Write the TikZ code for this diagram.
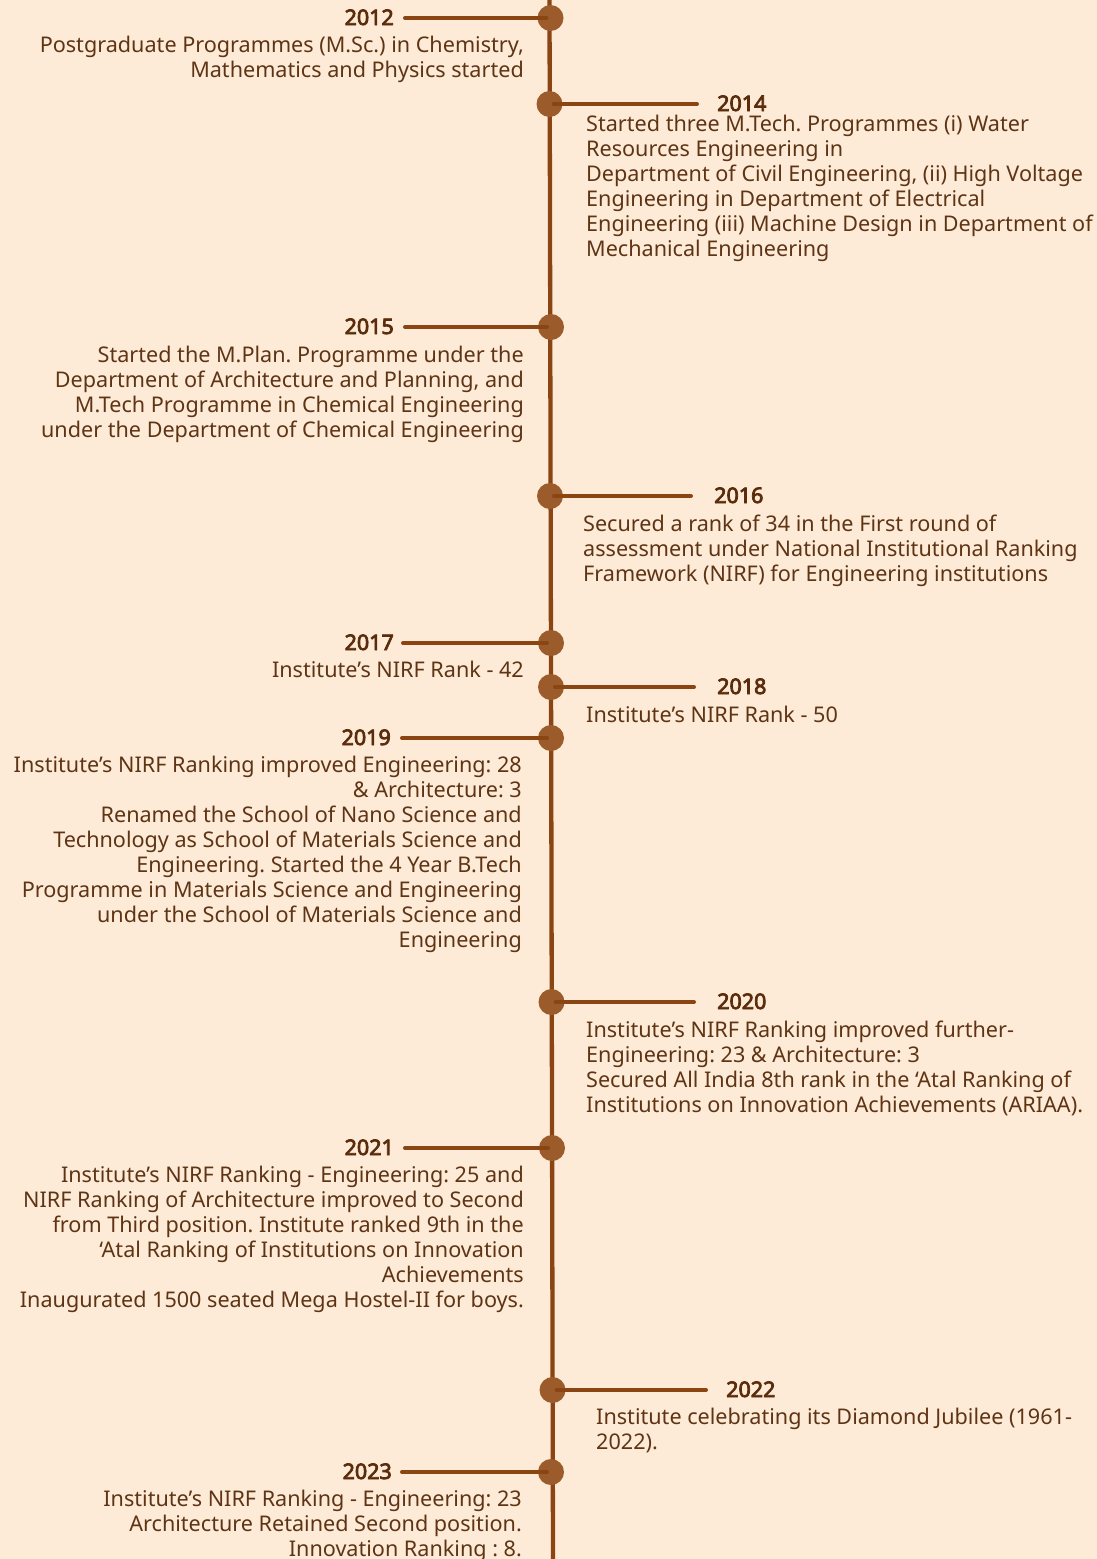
\documentclass[tikz,border=0pt]{standalone}
\usepackage{fontspec}
\setmainfont{Noto Sans}
\newfontfamily\yearfont{Noto Sans}[FakeBold=3.6]
\usepackage{xcolor}
\usetikzlibrary{calc,backgrounds}
\definecolor{peach}{HTML}{FDEBD8}
\definecolor{spinebrown}{HTML}{8B4513}
\definecolor{dotbrown}{HTML}{9B5B2B}
\definecolor{ink}{HTML}{5E3414}
\definecolor{yearink}{HTML}{5A2C0B}
\frenchspacing
\tikzset{
  dot/.style={circle, fill=dotbrown, minimum size=26pt, inner sep=0pt},
  spineline/.style={draw=spinebrown, line width=4.3pt},
  arm/.style={draw=spinebrown, line width=4pt, line cap=round},
  yr/.style={font=\fontsize{21.5}{24}\yearfont, text=yearink, inner sep=0pt},
  yrl/.style={yr, anchor=base east},
  yrr/.style={yr, anchor=base west},
  desc/.style={font=\fontsize{21.6}{25}\selectfont, text=ink, inner sep=0pt},
  descl/.style={desc, align=right, anchor=north east},
  descr/.style={desc, align=left, anchor=north west},
}

\begin{document}
\begin{tikzpicture}[x=1pt, y=-1pt]
    \useasboundingbox (0,0) rectangle (1097,1559);

    % dots on the spine
    \node[dot] at (550.5,18) (d12) {};
    \node[dot] at (549.5,104) (d14) {};
    \node[dot] at (551,327) (d15) {};
    \node[dot] at (550,496) (d16) {};
    \node[dot] at (551,643) (d17) {};
    \node[dot] at (551,687) (d18) {};
    \node[dot] at (551,738) (d19) {};
    \node[dot] at (551.5,1002) (d20) {};
    \node[dot] at (552,1148) (d21) {};
    \node[dot] at (552.5,1390) (d22) {};
    \node[dot] at (551,1472) (d23) {};
    \coordinate (top) at (549.5,0);
    \coordinate (bottom) at (553,1559);

    \begin{pgfonlayer}{background}
    \fill[peach] (0,0) rectangle (1097,1559);
    \draw[spineline] (top) -- (bottom);
    \end{pgfonlayer}

    % arms
    \coordinate (a12) at (405,18);
    \coordinate (a14) at (697,104);
    \coordinate (a15) at (405,327);
    \coordinate (a16) at (691,496);
    \coordinate (a17) at (403,643);
    \coordinate (a18) at (694,687);
    \coordinate (a19) at (402,738);
    \coordinate (a20) at (694,1002);
    \coordinate (a21) at (405,1148);
    \coordinate (a22) at (706,1390);
    \coordinate (a23) at (402,1472);
    \foreach \n in {12,14,15,16,17,18,19,20,21,22,23}
        \draw[arm] (a\n) -- ($(d\n.center)!4pt!(a\n)$);

    % years
    \node[yrl] at (394,25) (y12) {2012};
    \node[yrr] at (717,111) (y14) {2014};
    \node[yrl] at (394,334) (y15) {2015};
    \node[yrr] at (714,503) (y16) {2016};
    \node[yrl] at (394,650) (y17) {2017};
    \node[yrr] at (717,694) (y18) {2018};
    \node[yrl] at (391,745) (y19) {2019};
    \node[yrr] at (717,1009) (y20) {2020};
    \node[yrl] at (394,1155) (y21) {2021};
    \node[yrr] at (726,1397) (y22) {2022};
    \node[yrl] at (392,1479) (y23) {2023};

    % descriptions
    \node[descl] at (524,35) (t12) {\strut Postgraduate Programmes (M.Sc.) in Chemistry,\\
        Mathematics and Physics started};
    \node[descr] at (586,114) (t14) {\strut Started three M.Tech. Programmes (i) Water\\
        Resources Engineering in\\
        Department of Civil Engineering, (ii) High Voltage\\
        Engineering in Department of Electrical\\
        Engineering (iii) Machine Design in Department of\\
        Mechanical Engineering};
    \node[descl] at (524,344.5) (t15) {\strut Started the M.Plan. Programme under the\\
        Department of Architecture and Planning, and\\
        M.Tech Programme in Chemical Engineering\\
        under the Department of Chemical Engineering};
    \node[descr] at (583,513.5) (t16) {\strut Secured a rank of 34 in the First round of\\
        assessment under National Institutional Ranking\\
        Framework (NIRF) for Engineering institutions};
    \node[descl] at (524,660) (t17) {\strut Institute’s NIRF Rank - 42};
    \node[descr] at (586,705) (t18) {\strut Institute’s NIRF Rank - 50};
    \node[descl] at (522,755) (t19) {\strut Institute’s NIRF Ranking improved Engineering: 28\\
        \& Architecture: 3\\
        Renamed the School of Nano Science and\\
        Technology as School of Materials Science and\\
        Engineering. Started the 4 Year B.Tech\\
        Programme in Materials Science and Engineering\\
        under the School of Materials Science and\\
        Engineering};
    \node[descr] at (586,1020) (t20) {\strut Institute’s NIRF Ranking improved further-\\
        Engineering: 23 \& Architecture: 3\\
        Secured All India 8th rank in the ‘Atal Ranking of\\
        Institutions on Innovation Achievements (ARIAA).};
    \node[descl] at (524,1164.5) (t21) {\strut Institute’s NIRF Ranking - Engineering: 25 and\\
        NIRF Ranking of Architecture improved to Second\\
        from Third position. Institute ranked 9th in the\\
        ‘Atal Ranking of Institutions on Innovation\\
        Achievements\\
        Inaugurated 1500 seated Mega Hostel-II for boys.};
    \node[descr] at (596,1406.5) (t22) {\strut Institute celebrating its Diamond Jubilee (1961-\\
        2022).};
    \node[descl] at (522,1488.5) (t23) {\strut Institute’s NIRF Ranking - Engineering: 23\\
        Architecture Retained Second position.\\
        Innovation Ranking : 8.};
\end{tikzpicture}
\end{document}
